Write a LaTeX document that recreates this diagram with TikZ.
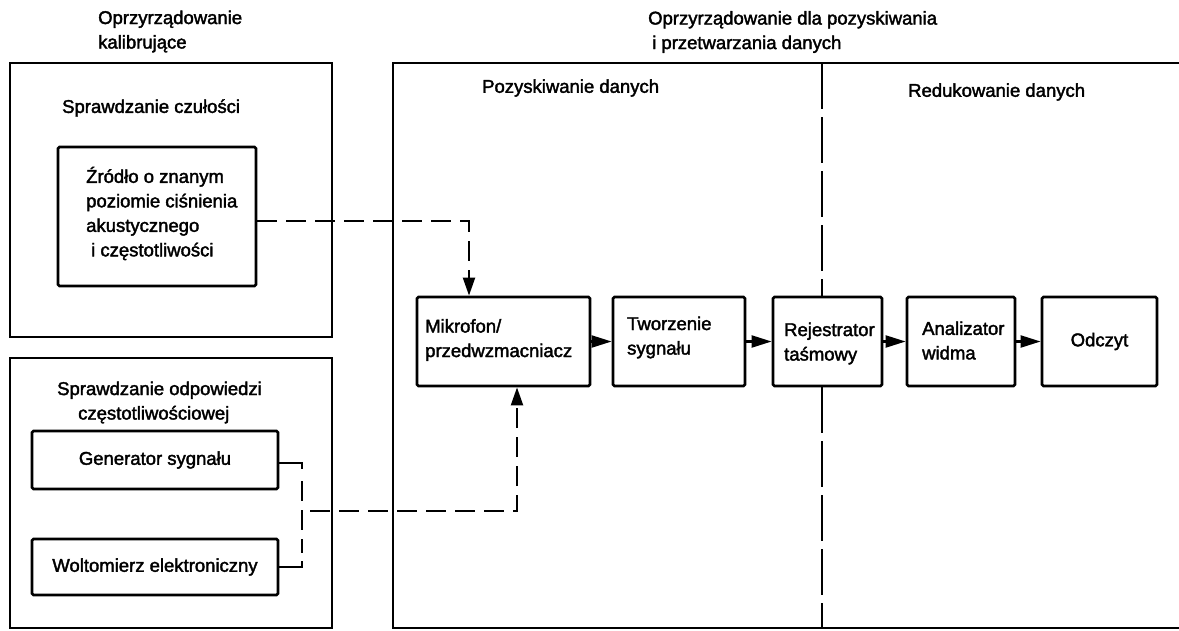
\documentclass[tikz,border=0pt]{standalone}
\usepackage{fontspec}
\setmainfont[FakeBold=2]{Liberation Sans}
\usetikzlibrary{arrows.meta}
\begin{document}
\begin{tikzpicture}[x=1pt,y=-1pt,
  txt/.style={inner sep=0pt, anchor=west, align=left, font=\fontsize{18.5}{24.5}\selectfont},
  frame/.style={draw, line width=2.2pt},
  blk/.style={draw, line width=2.8pt, fill=white, rounded corners=1.5pt, inner sep=0pt,
     font=\fontsize{18.5}{24.5}\selectfont},
  conn/.style={line width=2.2pt, -{Triangle[length=20pt,width=12pt]}},
  dconn/.style={line width=2.2pt, dash pattern=on 20pt off 9pt},
  darr/.style={dconn, -{Triangle[length=18pt,width=12pt]}}
]
\useasboundingbox (0,0) rectangle (1179,630);
% frames
\draw[frame] (10,63) rectangle (332,337);
\draw[frame] (10,358) rectangle (332,628);
\draw[frame] (1182,63) -- (393,63) -- (393,628) -- (1182,628);
\draw[line width=2pt, dash pattern=on 46pt off 8pt] (822,63) -- (822,628);

% titles
\node[txt] (t1) at (98,31.5) {Oprzyrządowanie\\kalibrujące};
\node[txt] (t2) at (648,32) {Oprzyrządowanie dla pozyskiwania\\\hspace{4pt}i przetwarzania danych};
\node[txt] (s1) at (62,108) {Sprawdzanie czułości};
\node[txt] (s2) at (57,402.5) {Sprawdzanie odpowiedzi\\\hspace{21pt}częstotliwościowej};
\node[txt] (s3) at (482,88) {Pozyskiwanie danych};
\node[txt] (s4) at (908,92) {Redukowanie danych};

% left blocks
\node[blk, minimum width=198pt, minimum height=139pt] (zr) at (157,216.5) {};
\node[txt] (zrt) at (86,213.5) {Źródło o znanym\\poziomie ciśnienia\\akustycznego\\\hspace{5pt}i częstotliwości};
\node[blk, minimum width=246pt, minimum height=58pt] (gen) at (155,460) {Generator sygnału};
\node[blk, minimum width=246pt, minimum height=56pt] (wol) at (155,567) {Woltomierz elektroniczny};

% chain
\node[blk, minimum width=173pt, minimum height=89pt] (mik) at (503.5,341.5) {};
\node[txt] (mikt) at (425,340) {Mikrofon/\\przedwzmacniacz};
\node[blk, minimum width=132pt, minimum height=89pt] (tw) at (679,341.5) {};
\node[txt] (twt) at (627,337.5) {Tworzenie\\sygnału};
\node[blk, minimum width=109pt, minimum height=89pt] (rej) at (827.5,341.5) {};
\node[txt] (rejt) at (784,343.5) {Rejestrator\\taśmowy};
\node[blk, minimum width=108pt, minimum height=89pt] (ana) at (961,341.5) {};
\node[txt] (anat) at (922,340.5) {Analizator\\widma};
\node[blk, minimum width=115pt, minimum height=89pt] (odc) at (1099.5,341.5) {Odczyt};

\draw[conn] (mik) -- (tw);
\draw[conn] (tw) -- (rej);
\draw[conn] (rej) -- (ana);
\draw[conn] (ana) -- (odc);

% dashed connectors
\coordinate (c1) at (469,221);
\draw[darr] (zr.east |- c1) -- (c1) -- (c1 |- mik.north);
\coordinate (c2) at (302,463);
\coordinate (c3) at (302,567);
\draw[line width=2.2pt] (gen.east |- c2) -- (c2) -- ([yshift=-6pt]c2);
\draw[line width=2.2pt] ([yshift=6pt]c3) -- (c3) -- (wol.east |- c3);
\draw[dconn, dash phase=-4pt] ([yshift=-14pt]c2) -- ([yshift=14pt]c3);
\coordinate (c4) at (310,511);
\coordinate (c5) at (517,511);
\draw[darr] (c4) -- (c5) -- (c5 |- mik.south);
\end{tikzpicture}
\end{document}
